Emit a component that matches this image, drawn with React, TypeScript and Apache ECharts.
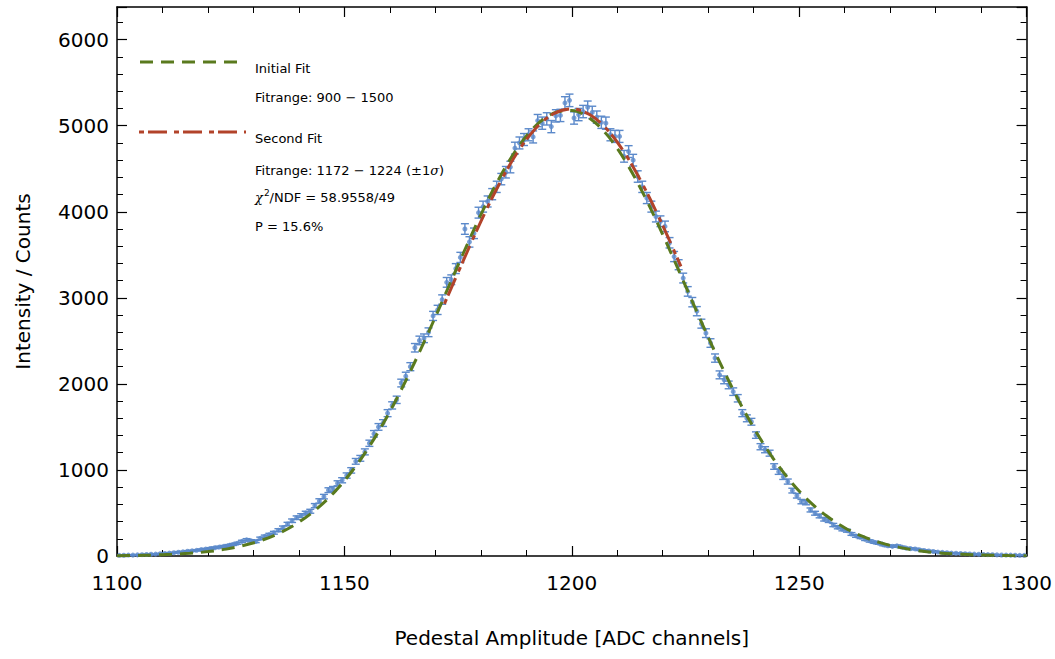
import React, { useEffect, useRef } from "react";
import * as echarts from "echarts";

// Histogram: first bin starts at 1100, bin width 1 ADC channel
const binStart = 1100;
const counts: number[] = [
  8, 9, 11, 10, 13, 15, 17, 20, 22, 26,
  30, 34, 38, 44, 48, 55, 60, 66, 74, 80,
  88, 96, 104, 112, 122, 134, 148, 170, 188, 176,
  168, 205, 228, 248, 270, 300, 330, 372, 410, 445,
  470, 498, 520, 585, 640, 690, 765, 780, 845, 880,
  935, 995, 1100, 1135, 1210, 1310, 1420, 1500, 1545, 1660,
  1750, 1815, 2010, 2090, 2200, 2420, 2505, 2530, 2600, 2790,
  2860, 2980, 3180, 3210, 3340, 3470, 3800, 3650, 3750, 3990,
  4060, 4120, 4205, 4290, 4380, 4460, 4520, 4740, 4800, 4840,
  4895, 4870, 5060, 5030, 5080, 4990, 5115, 5120, 5265, 5295,
  5090, 5130, 5165, 5215, 5155, 5100, 5040, 5030, 4895, 4876,
  4876, 4645, 4700, 4600, 4410, 4290, 4160, 4060, 3945, 3890,
  3830, 3640, 3480, 3385, 3230, 3075, 2950, 2845, 2700, 2590,
  2475, 2300, 2105, 2047, 1988, 1910, 1833, 1660, 1600, 1560,
  1405, 1270, 1235, 1195, 1040, 980, 920, 865, 760, 700,
  632, 620, 535, 497, 465, 427, 410, 360, 334, 310,
  294, 256, 233, 217, 194, 175, 160, 148, 130, 118,
  112, 118, 105, 92, 86, 82, 72, 64, 58, 52,
  46, 42, 38, 34, 32, 29, 27, 24, 22, 20,
  18, 16, 15, 13, 12, 11, 10, 9, 8, 8,
];

const initialFitX: number[] = [
  1100, 1104, 1108, 1112, 1116, 1120, 1124, 1128, 1132, 1136, 1140, 1144, 1148,
  1152, 1156, 1160, 1164, 1168, 1172, 1176, 1180, 1184, 1188, 1192, 1196, 1200,
  1204, 1208, 1212, 1216, 1220, 1224, 1228, 1232, 1236, 1240, 1244, 1248, 1252,
  1256, 1260, 1264, 1268, 1272, 1276, 1280, 1284, 1288, 1292, 1296, 1300,
];
const initialFitY: number[] = [
  4, 6, 11, 19, 31, 51, 80, 124, 186, 274, 393, 551, 754,
  1008, 1317, 1679, 2091, 2542, 3018, 3501, 3965, 4385, 4736, 4996, 5146, 5176,
  5085, 4879, 4570, 4182, 3736, 3260, 2779, 2312, 1879, 1491, 1156, 875, 647,
  467, 329, 227, 152, 100, 64, 40, 25, 15, 9, 5, 3,
];

const secondFitX: number[] = [
  1172, 1176, 1180, 1184, 1188, 1192, 1196, 1200, 1204, 1208, 1212, 1216, 1220, 1224,
];
const secondFitY: number[] = [
  2931, 3415, 3886, 4318, 4686, 4966, 5140, 5195, 5127, 4943, 4653, 4277, 3840, 3366,
];

const xTicks = { min: 1100, max: 1300, interval: 50 };
const yTicks = { min: 0, max: 6380, interval: 1000 };

const legendLines: string[] = [
  "Initial Fit",
  "Fitrange: 900 \u2212 1500",
  "Second Fit",
  "Fitrange: 1172 \u2212 1224 (\u00b11{i|\u03c3})",
  "{i|\u03c7}{s|2}/NDF = 58.9558/49",
  "P = 15.6%",
];

const BLUE = "#5b89ca";
const GREEN = "#5a7a1e";
const RED = "#b2432a";
const FONT = "DejaVu Sans";

export default function App() {
  const ref = useRef<HTMLDivElement>(null);

  useEffect(() => {
    if (!ref.current) return;
    const chart = echarts.init(ref.current, undefined, { renderer: "svg" });

    const points = counts.map((c, i) => [binStart + i + 0.5, c, Math.sqrt(c)]);
    const green = initialFitX.map((x, i) => [x, initialFitY[i]]);
    const red = secondFitX.map((x, i) => [x, secondFitY[i]]);

    const axisCommon = {
      axisLine: { show: true, onZero: false, lineStyle: { color: "#000", width: 1.5 } },
      axisTick: { show: true, inside: true, length: 10, lineStyle: { color: "#000", width: 1.2 } },
      minorTick: { show: true, splitNumber: 5, length: 6, lineStyle: { color: "#000", width: 1 } },
      splitLine: { show: false },
      minorSplitLine: { show: false },
    };

    const textStyle = { fontFamily: FONT, fontSize: 13, fill: "#000" };
    const rich = {
      i: { fontFamily: "DejaVu Serif", fontStyle: "italic", fontSize: 13, fill: "#000" },
      s: { fontFamily: FONT, fontSize: 9, verticalAlign: "top", padding: [0, 0, 8, 1] },
    };
    const legendY = [68, 97, 138, 170, 197, 226];
    const fmt = (v: number) => String(v);

    chart.setOption({
      animation: false,
      backgroundColor: "#fff",
      grid: { left: 117, right: 28, top: 7, bottom: 103, containLabel: false },
      xAxis: [
        {
          type: "value",
          position: "bottom",
          ...xTicks,
          ...axisCommon,
          axisLabel: { fontSize: 20, color: "#000", margin: 17, fontFamily: FONT, formatter: fmt },
          name: "Pedestal Amplitude [ADC channels]",
          nameLocation: "middle",
          nameGap: 72,
          nameTextStyle: { fontSize: 20, color: "#000", fontFamily: FONT },
        },
        {
          type: "value",
          position: "top",
          ...xTicks,
          ...axisCommon,
          axisLabel: { show: false },
        },
      ],
      yAxis: [
        {
          type: "value",
          position: "left",
          ...yTicks,
          ...axisCommon,
          axisLabel: {
            fontSize: 20,
            color: "#000",
            margin: 8,
            fontFamily: FONT,
            showMaxLabel: false,
            formatter: fmt,
          },
          name: "Intensity / Counts",
          nameLocation: "middle",
          nameGap: 84,
          nameTextStyle: { fontSize: 20, color: "#000", fontFamily: FONT },
        },
        {
          type: "value",
          position: "right",
          ...yTicks,
          ...axisCommon,
          axisLabel: { show: false },
        },
      ],
      series: [
        {
          type: "custom",
          name: "errors",
          clip: true,
          data: points,
          renderItem: (params: any, api: any) => {
            const x = api.value(0);
            const y = api.value(1);
            const e = api.value(2);
            const top = api.coord([x, y + e]);
            const bot = api.coord([x, y - e]);
            const hw = 4;
            const style = { stroke: BLUE, lineWidth: 1.4 };
            return {
              type: "group",
              children: [
                { type: "line", shape: { x1: top[0], y1: top[1], x2: bot[0], y2: bot[1] }, style },
                { type: "line", shape: { x1: top[0] - hw, y1: top[1], x2: top[0] + hw, y2: top[1] }, style },
                { type: "line", shape: { x1: bot[0] - hw, y1: bot[1], x2: bot[0] + hw, y2: bot[1] }, style },
              ],
            };
          },
        },
        {
          type: "scatter",
          name: "data",
          data: points.map((p) => [p[0], p[1]]),
          symbol: "circle",
          symbolSize: 5,
          itemStyle: { color: BLUE },
          clip: true,
        },
        {
          type: "line",
          name: "Initial Fit",
          data: green,
          smooth: 0.35,
          showSymbol: false,
          clip: true,
          lineStyle: { color: GREEN, width: 3, type: [13, 8] },
        },
        {
          type: "line",
          name: "Second Fit",
          data: red,
          smooth: 0.35,
          showSymbol: false,
          clip: true,
          lineStyle: { color: RED, width: 3, type: [5, 4, 19, 7] },
        },
      ],
      graphic: [
        {
          type: "line",
          shape: { x1: 140, y1: 62, x2: 240, y2: 62 },
          style: { stroke: GREEN, lineWidth: 3, lineDash: [13, 8] },
        },
        {
          type: "line",
          shape: { x1: 139, y1: 132, x2: 246, y2: 132 },
          style: { stroke: RED, lineWidth: 3, lineDash: [5, 4, 19, 7] },
        },
        ...legendLines.map((t, i) => ({
          type: "text",
          x: 255,
          y: legendY[i],
          style: { ...textStyle, text: t, rich, verticalAlign: "middle", align: "left" },
        })),
      ],
    });

    return () => chart.dispose();
  }, []);

  return (
    <div
      ref={ref}
      style={{ position: "fixed", left: 0, top: 0, width: 1055, height: 659, background: "#fff" }}
    />
  );
}
